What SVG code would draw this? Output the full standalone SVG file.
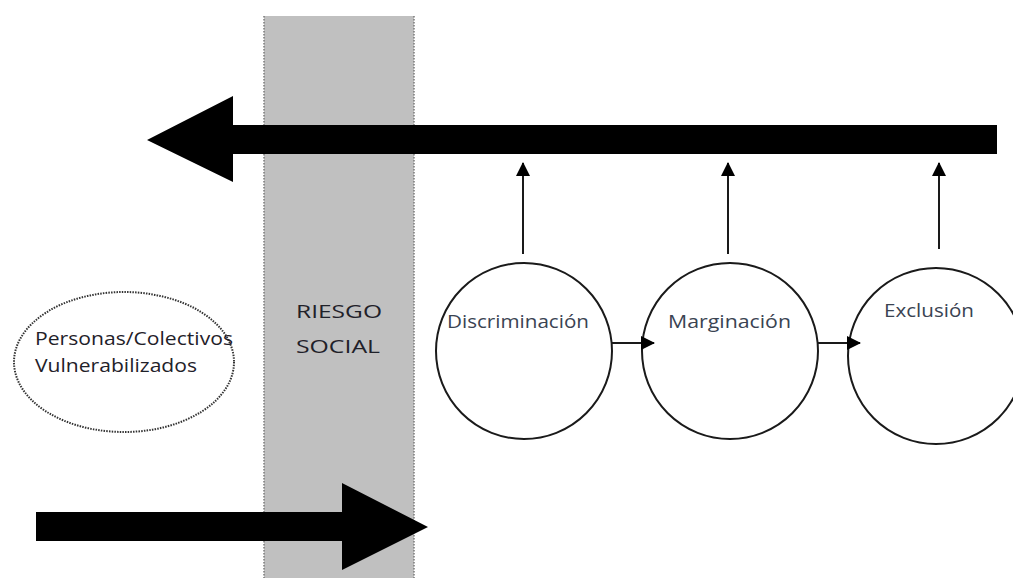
<svg xmlns="http://www.w3.org/2000/svg" width="1013" height="578" viewBox="0 0 1013 578">
<style>
  .lbl { font-family: "Open Sans", "Liberation Sans", Arial, sans-serif; font-size: 19px; fill: #3a4352; }
  .dark { fill: #1f2129; }
  .circ { fill: #ffffff; stroke: #1a1a1a; stroke-width: 2; }
  .thin { stroke: #1a1a1a; stroke-width: 2; fill: none; }
  .big { fill: #000000; }
</style>
<defs>
  <marker id="ah" markerWidth="14" markerHeight="14" refX="13" refY="7" orient="auto" markerUnits="userSpaceOnUse">
    <path d="M0,0 L14,7 L0,14 Z" fill="#000"/>
  </marker>
</defs>
<rect width="1013" height="578" fill="#ffffff"/>
<g id="riesgo-social">
  <rect x="264" y="16" width="150" height="570" fill="#c0c0c0"/>
  <line x1="264" y1="16" x2="264" y2="578" stroke="#7a7a7a" stroke-width="1.5" stroke-dasharray="1.5,1.5"/>
  <line x1="414" y1="16" x2="414" y2="578" stroke="#7a7a7a" stroke-width="1.5" stroke-dasharray="1.5,1.5"/>
  <text class="lbl dark" x="339" y="318" text-anchor="middle" font-size="22" textLength="86" lengthAdjust="spacingAndGlyphs">RIESGO</text>
  <text class="lbl dark" x="338" y="353" text-anchor="middle" font-size="22" textLength="84" lengthAdjust="spacingAndGlyphs">SOCIAL</text>
</g>
<g id="personas">
  <ellipse cx="124" cy="362" rx="110" ry="70" fill="#ffffff" stroke="#333" stroke-width="2" stroke-dasharray="1.5,1.2"/>
  <text class="lbl dark" x="35" y="345" textLength="198" lengthAdjust="spacingAndGlyphs">Personas/Colectivos</text>
  <text class="lbl dark" x="35" y="372" textLength="162" lengthAdjust="spacingAndGlyphs">Vulnerabilizados</text>
</g>
<g id="discriminacion">
  <circle class="circ" cx="524" cy="351" r="88"/>
  <text class="lbl" x="447" y="328" textLength="142" lengthAdjust="spacingAndGlyphs">Discriminación</text>
</g>
<g id="marginacion">
  <circle class="circ" cx="730" cy="351" r="88"/>
  <text class="lbl" x="668" y="328" textLength="123" lengthAdjust="spacingAndGlyphs">Marginación</text>
</g>
<g id="exclusion">
  <circle class="circ" cx="936" cy="356" r="88"/>
  <text class="lbl" x="884" y="317" textLength="90" lengthAdjust="spacingAndGlyphs">Exclusión</text>
</g>
<g id="connectors">
  <path class="big" d="M147,140 L233,96 L233,125 L997,125 L997,154 L233,154 L233,182 Z"/>
  <path class="big" d="M36,512 L342,512 L342,483 L428,527 L342,570 L342,541 L36,541 Z"/>
  <line class="thin" x1="523" y1="254" x2="523" y2="163" marker-end="url(#ah)"/>
  <line class="thin" x1="728" y1="254" x2="728" y2="163" marker-end="url(#ah)"/>
  <line class="thin" x1="939" y1="249" x2="939" y2="163" marker-end="url(#ah)"/>
  <line class="thin" x1="612" y1="343" x2="654" y2="343" marker-end="url(#ah)"/>
  <line class="thin" x1="818" y1="343" x2="860" y2="343" marker-end="url(#ah)"/>
</g>
</svg>
